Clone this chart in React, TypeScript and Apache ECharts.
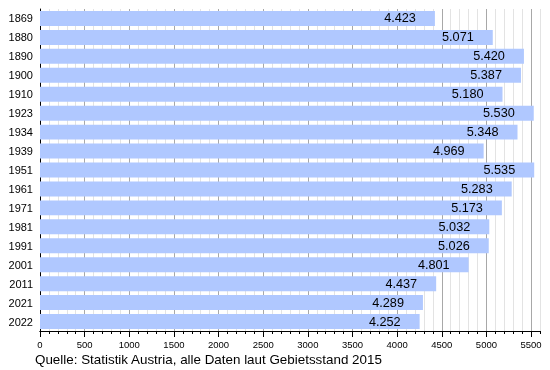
import React, { useEffect, useRef } from "react";
import * as echarts from "echarts";

const years = ["1869", "1880", "1890", "1900", "1910", "1923", "1934", "1939", "1951", "1961", "1971", "1981", "1991", "2001", "2011", "2021", "2022"];
const population = [4423, 5071, 5420, 5387, 5180, 5530, 5348, 4969, 5535, 5283, 5173, 5032, 5026, 4801, 4437, 4289, 4252];
const sourceText = "Quelle: Statistik Austria, alle Daten laut Gebietsstand 2015";

const FONT = "'Liberation Sans', Arial, Helvetica, sans-serif";

export default function App() {
  const ref = useRef<HTMLDivElement>(null);
  useEffect(() => {
    if (!ref.current) return;
    const chart = echarts.init(ref.current, undefined, { renderer: "svg" });
    const left = 40;
    const plotW = 500;
    const fullMax = 5600;
    const majorMax = 5500;
    const majorW = (plotW * majorMax) / fullMax;
    chart.setOption({
      animation: false,
      textStyle: { fontFamily: FONT },
      grid: [
        { left, width: plotW, top: 9, bottom: 39, containLabel: false },
        { left, width: majorW, top: 9, bottom: 39, containLabel: false },
      ],
      xAxis: [
        {
          type: "value",
          gridIndex: 0,
          min: 0,
          max: fullMax,
          interval: 100,
          axisLine: { show: true, lineStyle: { color: "#000", width: 1 } },
          axisTick: { show: true, length: 3, lineStyle: { color: "#000" } },
          axisLabel: { show: false },
          splitLine: { show: true, lineStyle: { color: "#e3e3e3", width: 1 } },
        },
        {
          type: "value",
          gridIndex: 1,
          min: 0,
          max: majorMax,
          interval: 500,
          axisLine: { show: true, lineStyle: { color: "#000", width: 1 } },
          axisTick: { show: true, length: 6, lineStyle: { color: "#000" } },
          axisLabel: {
            show: true,
            color: "#000",
            fontSize: 9.5,
            margin: 8,
            fontFamily: FONT,
            formatter: (v: number) => String(v),
          },
          splitLine: { show: true, showMinLine: false, lineStyle: { color: "#a8a8a8", width: 1 } },
        },
      ],
      yAxis: [
        {
          type: "category",
          gridIndex: 0,
          data: years,
          inverse: true,
          axisLine: { show: true, lineStyle: { color: "#000" } },
          axisTick: { show: false },
          axisLabel: { color: "#000", fontSize: 11, margin: 7, fontFamily: FONT },
          splitLine: { show: false },
        },
        {
          type: "category",
          gridIndex: 1,
          data: years,
          inverse: true,
          show: false,
        },
      ],
      series: [
        {
          type: "bar",
          xAxisIndex: 0,
          yAxisIndex: 0,
          data: population,
          barCategoryGap: "21%",
          itemStyle: { color: "rgb(176,200,255)" },
          label: {
            show: true,
            position: "insideRight",
            distance: 19,
            color: "#000",
            fontSize: 12.7,
            fontFamily: FONT,
            formatter: (p: any) => (p.value / 1000).toFixed(3),
          },
        },
      ],
      graphic: [
        {
          type: "text",
          left: 35,
          top: 353,
          style: { text: sourceText, fill: "#000", fontSize: 13.4, fontFamily: FONT },
        },
      ],
    });
    return () => chart.dispose();
  }, []);
  return <div ref={ref} style={{ position: "fixed", left: 0, top: 0, width: 550, height: 370 }} />;
}
